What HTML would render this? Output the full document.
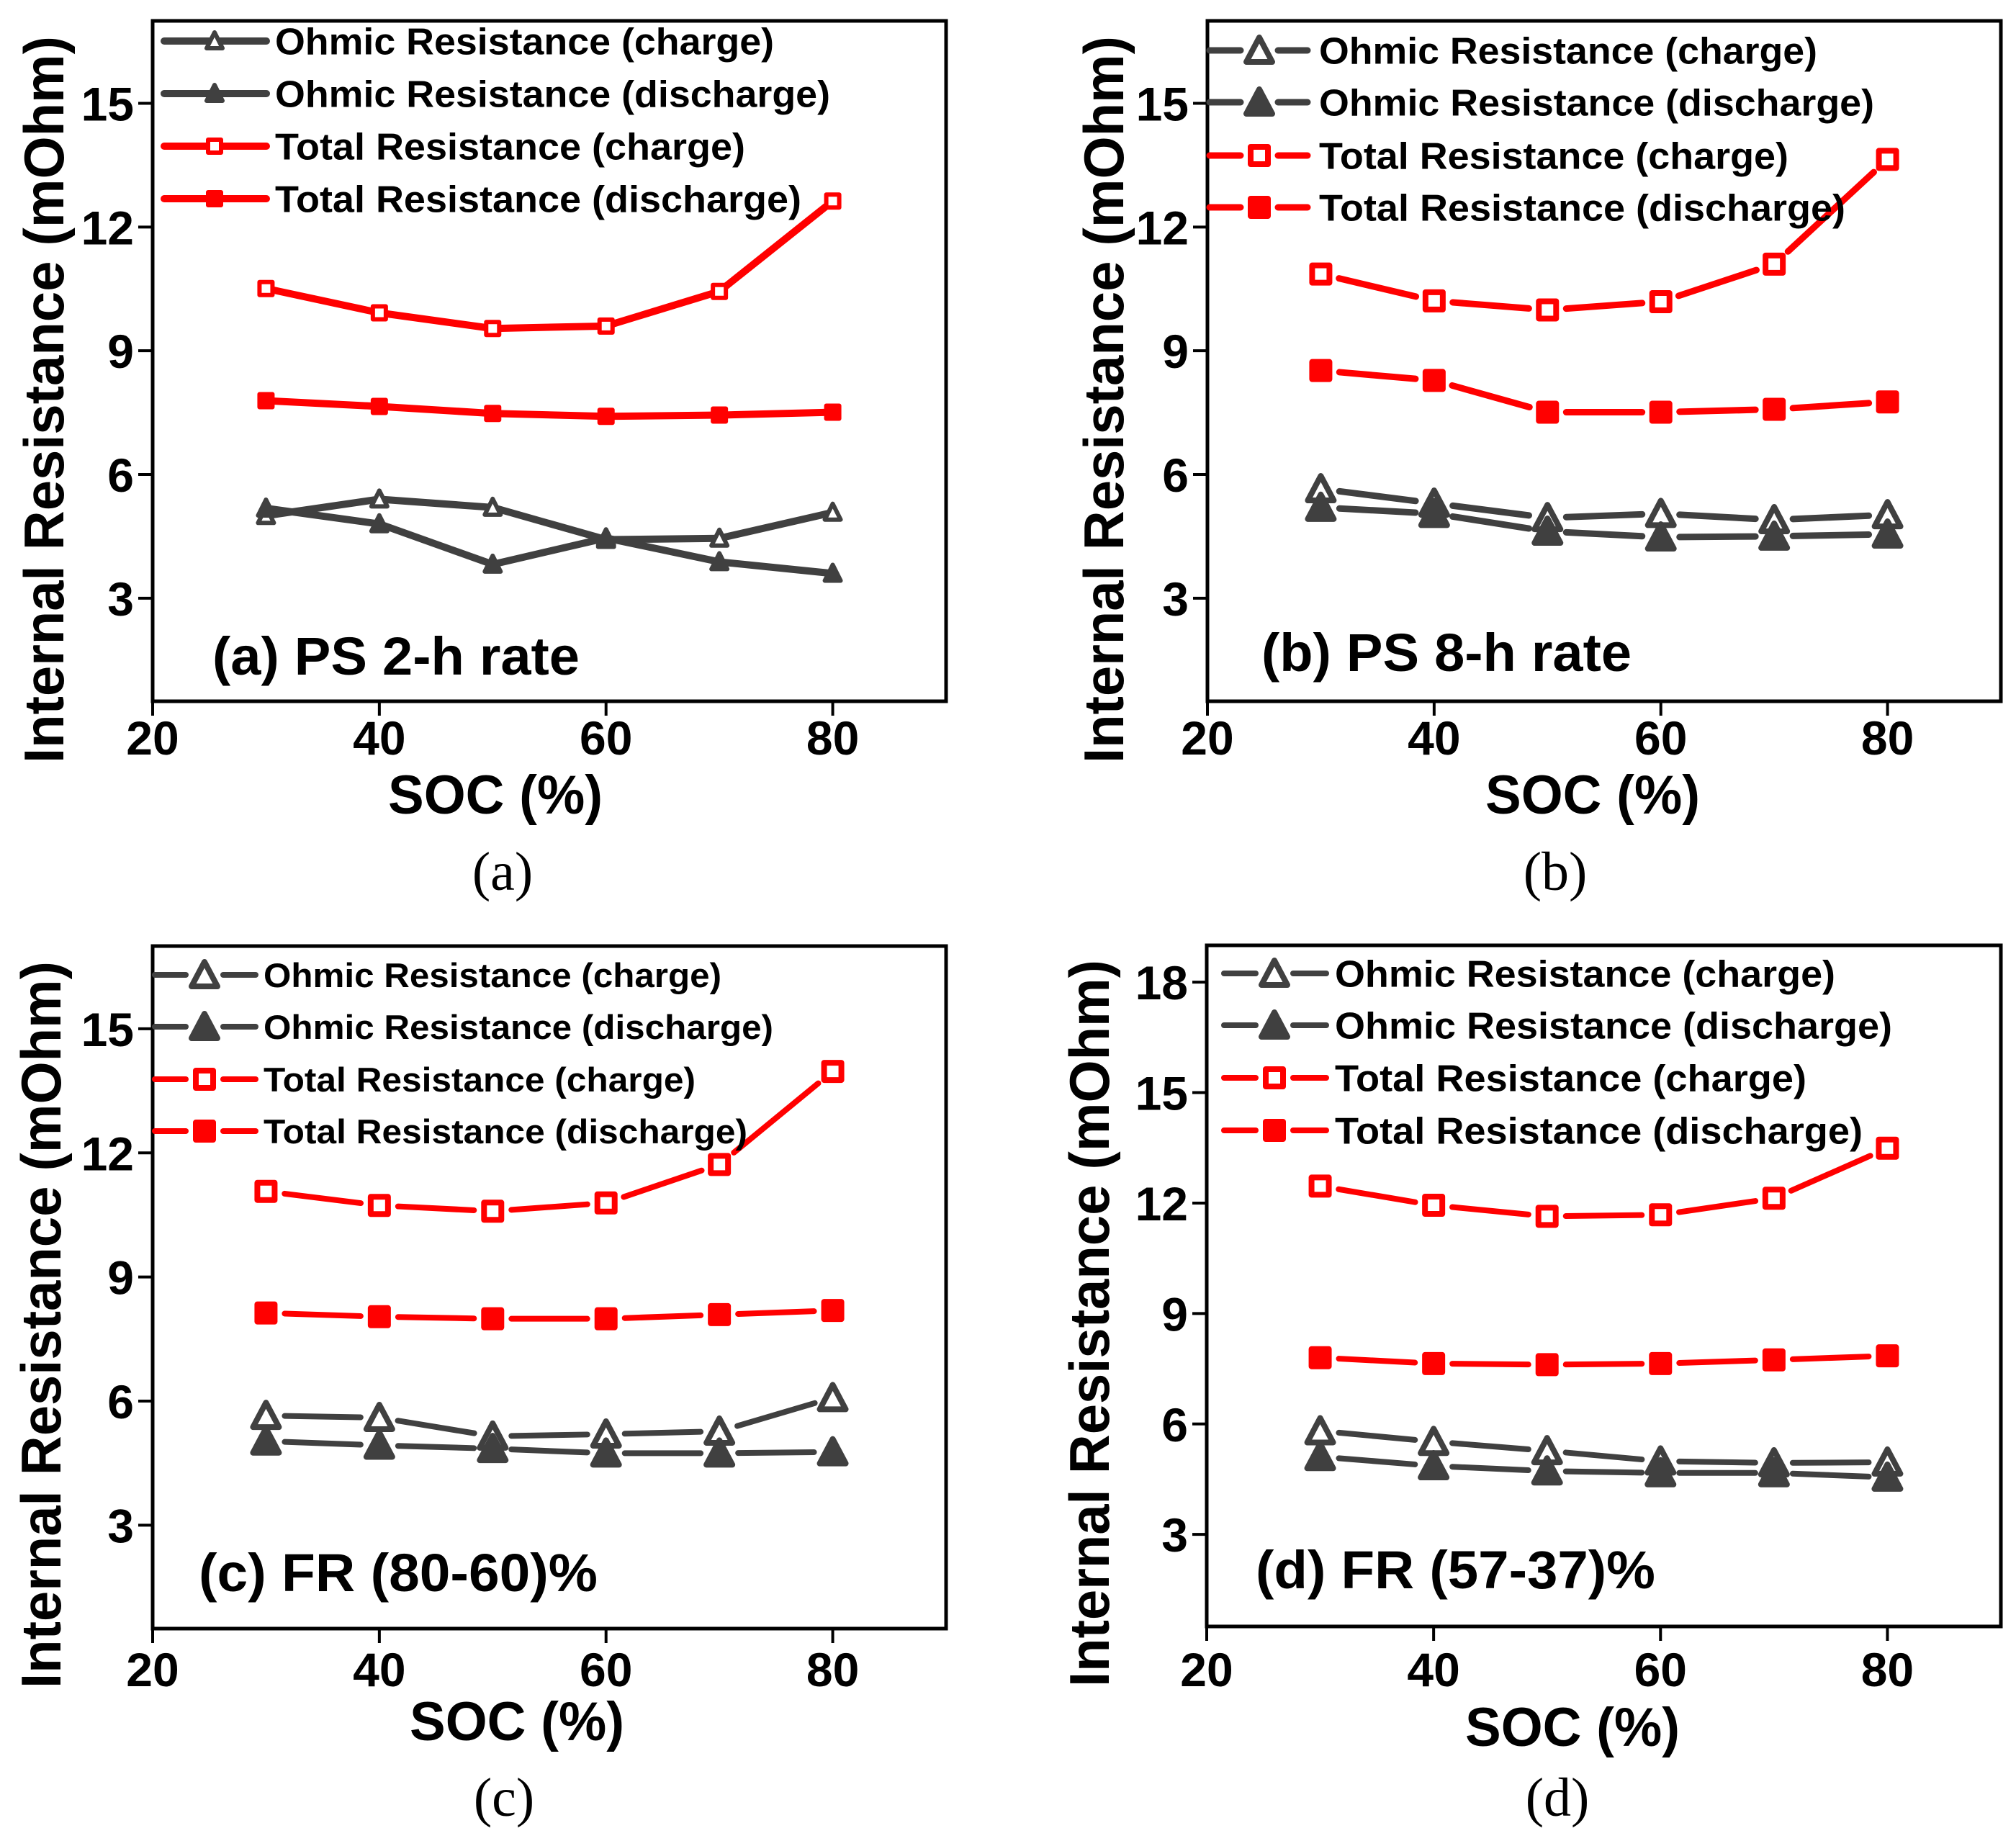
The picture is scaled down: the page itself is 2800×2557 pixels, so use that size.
<!DOCTYPE html>
<html><head><meta charset="utf-8"><style>
html,body{margin:0;padding:0;background:#fff;}
svg{display:block;}
text{font-family:"Liberation Sans",Arial,sans-serif;font-weight:bold;fill:#000;}
.cap{font-family:"Liberation Serif",serif;font-weight:normal;}
</style></head><body>
<svg id="fig" width="2800" height="2557" viewBox="0 0 2800 2557" xmlns="http://www.w3.org/2000/svg"></svg>
<script>
// ---- data ----
const socValues = [30, 40, 50, 60, 70, 80];
const xTicks = [20, 40, 60, 80];
const yTicksABC = [3, 6, 9, 12, 15];
const yTicksD = [3, 6, 9, 12, 15, 18];
const seriesNames = ["Ohmic Resistance (charge)", "Ohmic Resistance (discharge)", "Total Resistance (charge)", "Total Resistance (discharge)"];
// panel a
const aOhmCharge = [5.0, 5.4, 5.2, 4.42, 4.45, 5.08];
const aOhmDischarge = [5.18, 4.8, 3.82, 4.46, 3.88, 3.6];
const aTotCharge = [10.51, 9.92, 9.54, 9.6, 10.44, 12.63];
const aTotDischarge = [7.79, 7.65, 7.48, 7.41, 7.44, 7.51];
// panel b
const bOhmCharge = [5.65, 5.3, 4.95, 5.05, 4.9, 5.02];
const bOhmDischarge = [5.2, 5.05, 4.62, 4.48, 4.5, 4.55];
const bTotCharge = [10.86, 10.21, 9.99, 10.19, 11.1, 13.64];
const bTotDischarge = [8.52, 8.28, 7.51, 7.51, 7.58, 7.76];
// panel c
const cOhmCharge = [5.65, 5.6, 5.15, 5.2, 5.27, 6.08];
const cOhmDischarge = [5.03, 4.93, 4.85, 4.74, 4.74, 4.77];
const cTotCharge = [11.07, 10.73, 10.59, 10.79, 11.72, 13.97];
const cTotDischarge = [8.13, 8.04, 7.99, 7.99, 8.09, 8.19];
// panel d
const dOhmCharge = [5.81, 5.52, 5.27, 4.99, 4.94, 4.96];
const dOhmDischarge = [5.11, 4.86, 4.72, 4.67, 4.67, 4.55];
const dTotCharge = [12.46, 11.94, 11.64, 11.68, 12.13, 13.49];
const dTotDischarge = [7.8, 7.64, 7.61, 7.64, 7.74, 7.85];
const annotations = ["(a) PS 2-h rate", "(b) PS 8-h rate", "(c) FR (80-60)%", "(d) FR (57-37)%"];
const captions = ["(a)", "(b)", "(c)", "(d)"];

const NS = "http://www.w3.org/2000/svg";
const svg = document.getElementById('fig');
function mk(tag, attrs, parent){const e=document.createElementNS(NS,tag);for(const k in attrs)e.setAttribute(k,attrs[k]);(parent||svg).appendChild(e);return e;}

const panels = [
 {key:'a', L:212, R:1314, T:29, B:974, ymin:0.5, ymax:17, yt:yTicksABC, data:[aOhmCharge,aOhmDischarge,aTotCharge,aTotDischarge],
  big:false, lw:10, leg:{x1:228,x2:370,mx:298,tx:382,rows:[57,130,203,276],fs:52,w:[693,771,653,731]},
  ann:{x:295,y:937,w:510}, yt_x:88, ytitleCy:555, xt_y:1048, xtitle:{cx:688,y:1130}, cap:{cx:698,y:1236}},
 {key:'b', L:1677, R:2779, T:29, B:974, ymin:0.5, ymax:17, yt:yTicksABC, data:[bOhmCharge,bOhmDischarge,bTotCharge,bTotDischarge],
  big:true, lw:9, leg:{x1:1680,x2:1816,mx:1749,tx:1832,rows:[70,142,216,288],fs:52,w:[692,771,652,731]},
  ann:{x:1752,y:932,w:514}, yt_x:1560, ytitleCy:555, xt_y:1048, xtitle:{cx:2212,y:1130}, cap:{cx:2160,y:1236}},
 {key:'c', L:212, R:1314, T:1314, B:2262, ymin:0.5, ymax:17, yt:yTicksABC, data:[cOhmCharge,cOhmDischarge,cTotCharge,cTotDischarge],
  big:true, lw:8, leg:{x1:215,x2:355,mx:284,tx:366,rows:[1354,1426,1499,1571],fs:47,w:[636,708,600,672]},
  ann:{x:276,y:2210,w:554}, yt_x:84, ytitleCy:1840, xt_y:2342, xtitle:{cx:718,y:2417}, cap:{cx:700,y:2522}},
 {key:'d', L:1676, R:2779, T:1313, B:2259, ymin:0.5, ymax:19, yt:yTicksD, data:[dOhmCharge,dOhmDischarge,dTotCharge,dTotDischarge],
  big:true, lw:8, leg:{x1:1700,x2:1842,mx:1770,tx:1854,rows:[1352,1424,1497,1570],fs:52,w:[695,774,655,733]},
  ann:{x:1744,y:2206,w:555}, yt_x:1540, ytitleCy:1838, xt_y:2342, xtitle:{cx:2184,y:2425}, cap:{cx:2163,y:2522}}
];
const colors = ['#404040','#404040','#ff0000','#ff0000'];

function marker(g, type, cx, cy, big, color){
  let m;
  if(type<2){
    const s = big?36:22, h = big?32:20;
    const pts = [[cx,cy-h/2-2],[cx-s/2,cy+h/2],[cx+s/2,cy+h/2]].map(p=>p.join(',')).join(' ');
    m = mk('polygon',{points:pts, fill: type===0?'#fff':color, stroke:color, 'stroke-width':big?8:6, 'stroke-linejoin':'round'}, g);
  } else {
    const s = big?24:18;
    m = mk('rect',{x:cx-s/2,y:cy-s/2,width:s,height:s, fill: type===2?'#fff':color, stroke:color,'stroke-width':big?8:6,'stroke-linejoin':'round'}, g);
  }
  
  
  return m;
}

panels.forEach((p,pi)=>{
  const g = mk('g',{});
  
  
  const x20 = p.L, xs = (p.R-p.L)/70;
  const X = v => x20 + (v-20)*xs;
  const Y = v => p.B - (v-p.ymin)*(p.B-p.T)/(p.ymax-p.ymin);
  const fr = mk('rect',{x:p.L,y:p.T,width:p.R-p.L,height:p.B-p.T,fill:'none',stroke:'#000','stroke-width':5},g);
   
  p.yt.forEach(t=>{
    const y=Y(t);
    const tk = mk('line',{x1:p.L-20,x2:p.L,y1:y,y2:y,stroke:'#000','stroke-width':4},g);
     
    const tl = mk('text',{x:p.L-26,y:y+24,'font-size':66,'text-anchor':'end'},g);
    tl.textContent = t;
     
  });
  xTicks.forEach(t=>{
    const x=X(t);
    const tk = mk('line',{x1:x,x2:x,y1:p.B,y2:p.B+20,stroke:'#000','stroke-width':4},g);
     
    const tl = mk('text',{x:x,y:p.xt_y,'font-size':66,'text-anchor':'middle'},g);
    tl.textContent = t;
     
  });
  p.data.forEach((vals,si)=>{
    const sg = mk('g',{},g);
    
    
    const pts = socValues.map((s,i)=>[X(s),Y(vals[i])]);
    const gap = p.big ? 26 : 0;
    for(let i=0;i<pts.length-1;i++){
      const [x1,y1]=pts[i],[x2,y2]=pts[i+1];
      const d=Math.hypot(x2-x1,y2-y1), ux=(x2-x1)/d, uy=(y2-y1)/d;
      const ln = mk('line',{x1:x1+ux*gap,y1:y1+uy*gap,x2:x2-ux*gap,y2:y2-uy*gap,stroke:colors[si],'stroke-width':p.lw,'stroke-linecap':'round'},sg);
       
    }
    pts.forEach(([x,y])=>marker(sg,si,x,y,p.big,colors[si]));
  });
  const lg = mk('g',{},g);
   
  seriesNames.forEach((nm,si)=>{
    const y=p.leg.rows[si];
    const eg = mk('g',{},lg);
     
    const gap = p.big?26:0;
    mk('line',{x1:p.leg.x1,x2:p.leg.mx-gap,y1:y,y2:y,stroke:colors[si],'stroke-width':p.lw,'stroke-linecap':'round'},eg);
    mk('line',{x1:p.leg.mx+gap,x2:p.leg.x2,y1:y,y2:y,stroke:colors[si],'stroke-width':p.lw,'stroke-linecap':'round'},eg);
    marker(eg,si,p.leg.mx,y,p.big,colors[si]);
    const t = mk('text',{x:p.leg.tx,y:y+p.leg.fs*0.36,'font-size':p.leg.fs,textLength:p.leg.w[si],lengthAdjust:'spacingAndGlyphs'},eg);
    t.textContent = nm;
  });
  const an = mk('text',{x:p.ann.x,y:p.ann.y,'font-size':74,textLength:p.ann.w,lengthAdjust:'spacingAndGlyphs'},g);
  an.textContent = annotations[pi];
   
  const yt = mk('text',{x:0,y:0,'font-size':78,'text-anchor':'middle',textLength:1010,lengthAdjust:'spacingAndGlyphs',transform:`translate(${p.yt_x},${p.ytitleCy}) rotate(-90)`},g);
  yt.textContent = 'Internal Resistance (mOhm)';
   
  const xt = mk('text',{x:p.xtitle.cx,y:p.xtitle.y,'font-size':76,'text-anchor':'middle',textLength:298,lengthAdjust:'spacingAndGlyphs'},g);
  xt.textContent = 'SOC (%)';
   
  const cp = mk('text',{x:p.cap.cx,y:p.cap.y,'font-size':76,'text-anchor':'middle','class':'cap'},g);
  cp.textContent = captions[pi];
   
});
</script>
</body></html>
